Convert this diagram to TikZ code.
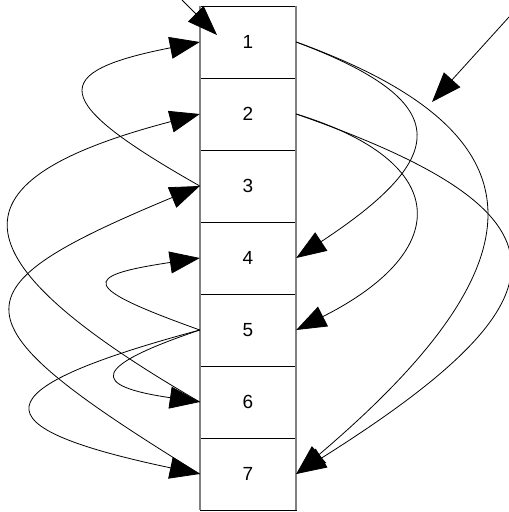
\documentclass[tikz,border=0pt]{standalone}
\usepackage{fontspec}
\setmainfont{Liberation Sans}
\usetikzlibrary{arrows.meta}
\tikzset{cell/.style={draw, minimum width=96pt, minimum height=72pt, inner sep=0pt, font=\fontsize{19}{19}\selectfont},
link/.style={-{Triangle[length=30pt,width=22pt]}, line width=0.8pt}}
\begin{document}
\begin{tikzpicture}[x=1pt,y=-1pt]
\useasboundingbox (0,0) rectangle (509,512);
\foreach \n in {1,...,7} % the column of cells
\node[cell] (c\n) at (248,{72*\n-30}) {\n};
\draw[gray, line width=1.6pt] (c1.north west) -- (c7.south west);
\draw[gray, line width=1.6pt] (c1.north east) -- (c7.south east);
\foreach \s/\t/\cx/\ya/\yb in {3/1/48/100/72, 6/2/-52/256/180, 7/3/-50/320/290, 5/4/80/287/276, 5/6/90/367/386, 5/7/-23/390/427} % left links
\draw[link] (c\s.west) .. controls (\cx,\ya) and (\cx,\yb) .. (c\t.west);
\foreach \s/\t/\cx/\ya/\yb in {1/4/453/101/155, 2/5/453/162/251, 1/7/548/133/260, 2/7/579/213/296} % right links
\draw[link] (c\s.east) .. controls (\cx,\ya) and (\cx,\yb) .. (c\t.east);
% the two free arrows
\coordinate (in1) at (182,0);
\coordinate (in1end) at (217,35);
\coordinate (in2) at (509,17);
\coordinate (in2end) at (432,102);
\draw[link] (in1) -- (in1end);
\draw[link] (in2) -- (in2end);
\end{tikzpicture}
\end{document}
